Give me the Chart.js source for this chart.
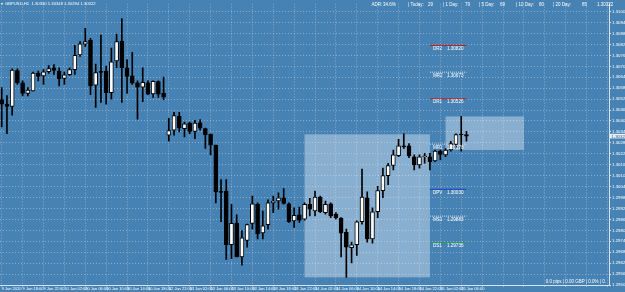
<!DOCTYPE html>
<html><head><meta charset="utf-8">
<script src="https://cdn.jsdelivr.net/npm/chart.js@4.4.1/dist/chart.umd.min.js"></script>
<style>html,body{margin:0;padding:0;background:#4682B4;overflow:hidden}#wrap{width:625px;height:292px;position:relative}</style>
</head><body><div id="wrap"><canvas id="c" width="625" height="292"></canvas></div>
<script>
// ---- data (GBPUSD H1) ----
const opens = [1.30523,1.30496,1.30485,1.30682,1.30615,1.30556,1.30570,1.30668,1.30653,1.30675,
 1.30697,1.30679,1.30639,1.30659,1.30687,1.30767,1.30827,1.30847,1.30601,1.30677,
 1.30679,1.30560,1.30735,1.30843,1.30697,1.30653,1.30614,1.30590,1.30615,1.30554,
 1.30621,1.30557,1.30327,1.30354,1.30431,1.30363,1.30393,1.30348,1.30395,1.30363,
 1.30332,1.30273,1.30016,1.30020,1.29726,1.29845,1.29659,1.29749,1.29843,1.29948,
 1.29791,1.29836,1.29956,1.29966,1.29984,1.29951,1.29857,1.29890,1.29866,1.29948,
 1.29911,1.29987,1.29902,1.29951,1.29894,1.29872,1.29794,1.29710,1.29726,1.29853,
 1.29984,1.29758,1.29908,1.30023,1.30105,1.30161,1.30215,1.30269,1.30269,1.30209,
 1.30164,1.30209,1.30209,1.30186,1.30240,1.30219,1.30246,1.30276,1.30330,1.30330];
const highs = [1.30588,1.30545,1.30691,1.30691,1.30625,1.30588,1.30673,1.30679,1.30687,1.30709,
 1.30715,1.30697,1.30673,1.30697,1.30820,1.30841,1.30913,1.30859,1.30718,1.30877,
 1.30706,1.30805,1.30882,1.30967,1.30742,1.30782,1.30625,1.30697,1.30625,1.30625,
 1.30625,1.30646,1.30420,1.30453,1.30453,1.30399,1.30399,1.30408,1.30413,1.30366,
 1.30335,1.30273,1.30083,1.30083,1.29948,1.29890,1.29803,1.29839,1.29993,1.29956,
 1.29911,1.29973,1.29993,1.30011,1.30034,1.29956,1.29929,1.29933,1.29956,1.29980,
 1.30020,1.29993,1.29966,1.29956,1.29902,1.29875,1.29812,1.29740,1.29857,1.30141,
 1.30016,1.29929,1.30047,1.30146,1.30173,1.30246,1.30305,1.30335,1.30281,1.30219,
 1.30219,1.30227,1.30227,1.30246,1.30246,1.30254,1.30294,1.30335,1.30431,1.30348];
const lows = [1.30372,1.30335,1.30437,1.30606,1.30543,1.30543,1.30568,1.30625,1.30606,1.30666,
 1.30660,1.30598,1.30606,1.30655,1.30660,1.30760,1.30814,1.30549,1.30480,1.30507,
 1.30498,1.30525,1.30697,1.30507,1.30557,1.30606,1.30415,1.30511,1.30549,1.30534,
 1.30534,1.30522,1.30294,1.30327,1.30345,1.30318,1.30335,1.30308,1.30354,1.30254,
 1.30219,1.29956,1.29853,1.29645,1.29650,1.29659,1.29614,1.29713,1.29812,1.29758,
 1.29758,1.29812,1.29902,1.29921,1.29948,1.29848,1.29821,1.29848,1.29861,1.29884,
 1.29884,1.29902,1.29894,1.29875,1.29866,1.29659,1.29547,1.29626,1.29668,1.29839,
 1.29740,1.29734,1.29875,1.29984,1.30056,1.30137,1.30209,1.30254,1.30204,1.30137,
 1.30146,1.30173,1.30137,1.30182,1.30191,1.30209,1.30240,1.30254,1.30240,1.30294];
const closes = [1.30498,1.30485,1.30684,1.30615,1.30556,1.30574,1.30668,1.30650,1.30675,1.30693,
 1.30682,1.30637,1.30659,1.30687,1.30765,1.30828,1.30841,1.30598,1.30670,1.30671,
 1.30561,1.30729,1.30841,1.30697,1.30650,1.30612,1.30590,1.30617,1.30552,1.30622,
 1.30552,1.30536,1.30352,1.30435,1.30368,1.30390,1.30348,1.30393,1.30366,1.30330,
 1.30273,1.30016,1.30013,1.29727,1.29843,1.29659,1.29764,1.29836,1.29951,1.29785,
 1.29830,1.29956,1.29966,1.29984,1.29953,1.29853,1.29888,1.29861,1.29948,1.29921,
 1.29987,1.29908,1.29948,1.29884,1.29875,1.29789,1.29713,1.29726,1.29852,1.29987,
 1.29758,1.29906,1.30023,1.30105,1.30161,1.30219,1.30269,1.30263,1.30213,1.30164,
 1.30209,1.30213,1.30182,1.30240,1.30222,1.30246,1.30281,1.30330,1.30328,1.30322];

const xTickBars = [0,4,8,12,16,20,24,28,32,36,40,44,48,52,56,60,64,68,72,76,80,84,88,92,96,100,104,108,112,116];
const xTickLabels = ["9 Jan 2020","9 Jan 18:00","9 Jan 22:00","10 Jan 02:00","10 Jan 06:00","10 Jan 10:00",
 "10 Jan 14:00","10 Jan 18:00","12 Jan 22:00","13 Jan 02:00","13 Jan 06:00","13 Jan 10:00","13 Jan 14:00",
 "13 Jan 18:00","13 Jan 22:00","14 Jan 02:00","14 Jan 06:00","14 Jan 10:00","14 Jan 14:00","14 Jan 18:00",
 "14 Jan 22:00","15 Jan 02:00","15 Jan 06:00","","","","","","",""];
const priceTicks = [1.29505,1.29565,1.29625,1.29685,1.29745,1.29805,1.29865,1.29925,1.29985,1.30045,
 1.30105,1.30165,1.30225,1.30285,1.30345,1.30405,1.30465,1.30525,1.30585,1.30645,1.30705,1.30765,
 1.30825,1.30885,1.30945,1.31005];

const pivotNames  = ["DR2","MR2","DR1","MR1","DPV","MS1","DS1"];
const pivotValues = [1.30820,1.30673,1.30526,1.30278,1.30030,1.29883,1.29736];
const pivotFromBar = 82, pivotToBar = 89;

const boxFromBar = [58, 85];
const boxToBar   = [82, 100];
const boxHigh    = [1.30332, 1.30430];
const boxLow     = [1.29547, 1.30246];

const currentPrice = 1.30322;
const titleText = "GBPUSD,H1  1.30330 1.30348 1.30294 1.30322";
const infoItems = [["ADR:",371.5],["34.6%",383],["| Today:",408],["29",428],["| 1 Day:",443],["79",465],
 ["| 5 Day:",479],["69",500],["| 10 Day:",516],["80",539],["| 20 Day:",553],["85",582]];
const footerText = "0.0 pips | 0.00 GBP | 0.0% | 0.";

// ---- build ----
const FONT = "'Liberation Sans', Arial, sans-serif";
const idx = opens.map((_, i) => i);
const bodyData = idx.map(i => ({x: i, y: [opens[i], closes[i]]}));
const wickData = idx.map(i => ({x: i, y: [lows[i], highs[i]]}));
const isBull = idx.map(i => closes[i] >= opens[i]);

const pivotStyles = {
  DR2:{c:'#c21818',d:[]}, DR1:{c:'#c21818',d:[]},
  MR2:{c:'#dce6f0',d:[1,1]}, MR1:{c:'#dce6f0',d:[1,1]}, MS1:{c:'#dce6f0',d:[1,1]},
  DPV:{c:'#1f3fc0',d:[]}, DS1:{c:'#22a04a',d:[]}
};
const pivotSets = pivotNames.map((n, k) => ({
  type:'line', data:[{x:pivotFromBar,y:pivotValues[k]},{x:pivotToBar,y:pivotValues[k]}],
  borderColor: pivotStyles[n].c, borderDash: pivotStyles[n].d, borderWidth:1,
  pointRadius:0, order:2
}));

const GRID = 'rgba(165,185,205,0.75)';
const bgPlugin = {id:'bg', beforeDraw(c){const g=c.ctx; g.save(); g.fillStyle='#4682B4'; g.fillRect(0,0,c.width,c.height); g.restore();}};
const boxPlugin = {id:'boxes', beforeDatasetsDraw(c){
  const g=c.ctx, x=c.scales.x, y=c.scales.y;
  g.save(); g.fillStyle='rgba(255,255,255,0.36)';
  for (let i=0;i<boxFromBar.length;i++){
    const x0=x.getPixelForValue(boxFromBar[i]), x1=x.getPixelForValue(boxToBar[i]);
    const y0=y.getPixelForValue(boxHigh[i]), y1=y.getPixelForValue(boxLow[i]);
    g.fillRect(x0,y0,x1-x0,y1-y0);
  }
  g.restore();
}};
const textPlugin = {id:'texts', afterDraw(c){
  const g=c.ctx, x=c.scales.x, y=c.scales.y;
  g.save();
  g.fillStyle='#ffffff'; g.textBaseline='middle';
  g.font='4.6px '+FONT;
  const lx = x.getPixelForValue(pivotFromBar)+3;
  pivotNames.forEach((n,k)=>{
    const py = y.getPixelForValue(pivotValues[k]);
    g.fillText(n, lx, py+3.2);
    g.fillText(pivotValues[k].toFixed(5), lx+14, py+3.2);
  });
  g.font='4.2px '+FONT;
  g.fillText('\u25BE', 1, 3.6);
  g.fillText(titleText, 5, 3.6);
  g.font='4.5px '+FONT;
  infoItems.forEach(([t,px])=>g.fillText(t, px, 5));
  g.fillText(currentPrice.toFixed(5), 597, 4.5);
  g.textAlign='right';
  g.fillText(footerText, 606, 281.5);
  const cy = y.getPixelForValue(currentPrice);
  g.textAlign='left';
  g.fillStyle='#e6eef6'; g.fillRect(610, cy-2.3, 15, 4.6);
  g.fillStyle='#2f5d8a'; g.font='4.4px '+FONT;
  g.fillText(currentPrice.toFixed(5), 611.5, cy+0.2);
  g.restore();
}};

new Chart(document.getElementById('c'), {
  type:'bar',
  data:{ datasets:[
    {type:'bar', data: bodyData, backgroundColor: isBull.map(b=>b?'#ffffff':'#000000'),
     borderColor:'#000000', borderWidth:1, borderSkipped:false, barThickness:4, minBarLength:1,
     grouped:false, order:0},
    {type:'bar', data: wickData, backgroundColor:'#000000', borderWidth:0, barThickness:1,
     grouped:false, order:1},
    ...pivotSets
  ]},
  options:{
    responsive:false, animation:false, devicePixelRatio:1,
    layout:{padding:0},
    plugins:{legend:{display:false}, tooltip:{enabled:false}},
    scales:{
      x:{type:'linear', position:'bottom', min:-0.33, max:116.3, offset:false,
        afterBuildTicks:s=>{s.ticks = xTickBars.map(v=>({value:v}));},
        afterFit:s=>{s.height=7;},
        grid:{offset:false, color:GRID, lineWidth:1, drawTicks:true, tickLength:1.5, tickColor:'#d8e2ec'},
        border:{display:true, color:'#d8e2ec', width:1, dash:[1,2]},
        ticks:{autoSkip:false, maxRotation:0, minRotation:0, align:'start', padding:0, color:'#ffffff',
          font:{size:4, family:FONT}, callback:(v,i)=>xTickLabels[i]}
      },
      y:{type:'linear', position:'right', min:1.29505, max:1.31049, beginAtZero:false,
        afterBuildTicks:s=>{s.ticks = priceTicks.map(v=>({value:v}));},
        afterFit:s=>{s.width=16;},
        grid:{color:GRID, lineWidth:1, drawTicks:true, tickLength:2, tickColor:'#d8e2ec'},
        border:{display:true, color:'#d8e2ec', width:1, dash:[1,2]},
        ticks:{padding:1, color:'#ffffff', font:{size:4.4, family:FONT}, callback:v=>Number(v).toFixed(5)}
      }
    }
  },
  plugins:[bgPlugin, boxPlugin, textPlugin]
});
</script></body></html>
